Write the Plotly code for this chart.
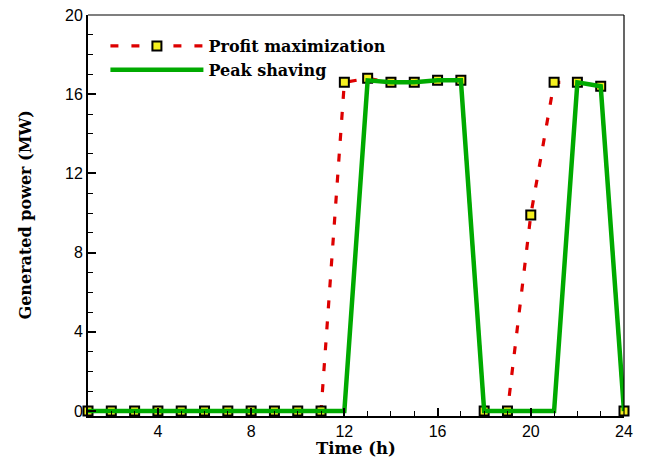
import plotly.graph_objects as go

hours = list(range(1, 25))
profit_max = [0, 0, 0, 0, 0, 0, 0, 0, 0, 0, 0, 16.6,
              16.8, 16.6, 16.6, 16.7, 16.7, 0, 0, 9.9, 16.6, 16.6, 16.4, 0]
peak_shaving = [0, 0, 0, 0, 0, 0, 0, 0, 0, 0, 0, 0,
                16.7, 16.6, 16.6, 16.7, 16.7, 0, 0, 0, 0, 16.6, 16.4, 0]
x_ticks = [4, 8, 12, 16, 20, 24]
y_ticks = [0, 4, 8, 12, 16, 20]

fig = go.Figure()
fig.add_trace(go.Scatter(
    x=hours, y=profit_max, name="Profit maximization", mode="lines+markers",
    line=dict(color="#DD0000", width=3.2, dash="8px,13px"),
    marker=dict(symbol="square", size=9, color="#F5F020",
                line=dict(color="black", width=2)),
    cliponaxis=False,
))
fig.add_trace(go.Scatter(
    x=hours, y=peak_shaving, name="Peak shaving", mode="lines",
    line=dict(color="#00AA00", width=4.5),
    cliponaxis=False,
))

axis_font = dict(family="Liberation Sans, Arial", size=16, color="black")

# page has an 8px body margin, so the figure is sized to fit the window
fig.update_layout(
    width=637, height=449,
    margin=dict(l=80, r=21, t=7, b=41),
    plot_bgcolor="white", paper_bgcolor="white",
    showlegend=True,
    legend=dict(x=0.0325, y=0.965, xanchor="left", yanchor="top",
                bgcolor="rgba(0,0,0,0)", itemwidth=93,
                font=dict(family="DejaVu Serif", size=16, color="black",
                          weight="bold"),
                tracegroupgap=0),
    xaxis=dict(range=[1, 24], tickvals=x_ticks, ticks="inside", ticklen=8,
               tickwidth=2, tickcolor="black", automargin=False,
               ticklabeloverflow="allow",
               minor=dict(dtick=1, tick0=0, ticks="inside", ticklen=5,
                          tickcolor="black", tickwidth=1),
               showline=True, linecolor="black", linewidth=2,
               showgrid=False, zeroline=False, tickfont=axis_font),
    yaxis=dict(range=[-0.25, 20], tickvals=y_ticks, ticks="inside", ticklen=8,
               tickwidth=2, tickcolor="black", automargin=False,
               ticklabeloverflow="allow",
               minor=dict(dtick=1, tick0=0, ticks="inside", ticklen=5,
                          tickcolor="black", tickwidth=1),
               showline=True, linecolor="black", linewidth=2,
               showgrid=False, zeroline=False, tickfont=axis_font),
    shapes=[
        dict(type="line", xref="paper", yref="paper", x0=0, x1=1, y0=1, y1=1,
             line=dict(color="black", width=1.2)),
        dict(type="line", xref="paper", yref="paper", x0=1, x1=1, y0=0, y1=1,
             line=dict(color="black", width=1.2)),
    ],
    annotations=[
        dict(text="<b>Time (h)</b>", xref="paper", yref="paper",
             x=0.5, y=0, yshift=-32, xanchor="center", yanchor="middle",
             showarrow=False, borderpad=0,
             font=dict(family="DejaVu Serif", size=16.5, color="black")),
        dict(text="<b>Generated power (MW)</b>", xref="paper", yref="paper",
             x=0, xshift=-63, y=0.5, xanchor="center", yanchor="middle",
             textangle=-90, showarrow=False,
             font=dict(family="DejaVu Serif", size=16, color="black")),
    ],
)

fig.write_html("out.html")
